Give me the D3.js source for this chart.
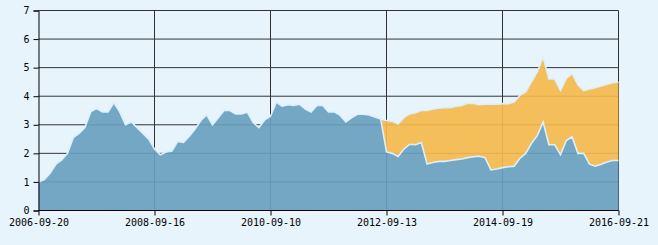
<!DOCTYPE html>
<html>
<head>
<meta charset="utf-8">
<script src="https://cdn.jsdelivr.net/npm/d3@7"></script>
<style>
  body { margin: 0; background: #e8f4fc; }
  svg { display: block; }
  .tick-label { font-family: "DejaVu Sans Mono", "Liberation Mono", monospace; font-size: 10px; fill: #000; }
</style>
</head>
<body>
<div id="chart-area"><svg></svg></div>
<script>
// sampled values, evenly spaced from 2006-09-20 to 2016-09-21
const blueValues = [
  1.0, 1.08, 1.3, 1.62, 1.77, 2.0, 2.55, 2.7, 2.9, 3.45,
  3.58, 3.45, 3.45, 3.78, 3.45, 3.0, 3.1, 2.9, 2.7, 2.5,
  2.15, 1.95, 2.05, 2.08, 2.42, 2.38, 2.6, 2.85, 3.15, 3.35,
  3.0, 3.25, 3.5, 3.5, 3.38, 3.38, 3.44, 3.08, 2.9, 3.17,
  3.3, 3.79, 3.65, 3.7, 3.68, 3.72, 3.55, 3.45, 3.68, 3.68,
  3.45, 3.45, 3.33, 3.1, 3.25, 3.37, 3.37, 3.34, 3.27, 3.2,
  2.05, 2.0, 1.89, 2.15, 2.32, 2.3, 2.38, 1.63, 1.68, 1.72,
  1.72, 1.75, 1.78, 1.8, 1.85, 1.88, 1.9, 1.85, 1.42, 1.45,
  1.5, 1.53, 1.55, 1.83, 2.0, 2.35, 2.62, 3.1, 2.3, 2.3,
  1.95, 2.45, 2.58, 2.0, 2.0, 1.62, 1.55, 1.62, 1.7, 1.75,
  1.75
];

// second series starts at index 59
const orangeStart = 59;
const orangeValues = [
  3.2, 3.15, 3.12, 3.03, 3.25, 3.38, 3.42, 3.5, 3.5, 3.55,
  3.58, 3.6, 3.6, 3.65, 3.68, 3.75, 3.75, 3.7, 3.72, 3.72,
  3.72, 3.74, 3.74, 3.8, 4.03, 4.15, 4.5, 4.85, 5.37, 4.6,
  4.6, 4.2, 4.62, 4.79, 4.4, 4.2, 4.25, 4.3, 4.36, 4.42,
  4.47, 4.5
];

const dateLabels = ["2006-09-20", "2008-09-16", "2010-09-10", "2012-09-13", "2014-09-19", "2016-09-21"];
const dateIndex = [0, 20, 40, 60, 80, 100];
const yTicks = [0, 1, 2, 3, 4, 5, 6, 7];

const chartSize = { width: 658, height: 245 };
const margin = { left: 38.5, right: 39.5, top: 10.5, bottom: 34.5 };
const width = chartSize.width - margin.left - margin.right;
const height = chartSize.height - margin.top - margin.bottom;

const svg = d3.select("#chart-area svg")
  .attr("width", chartSize.width)
  .attr("height", chartSize.height);

const g = svg.append("g").attr("transform", `translate(${margin.left}, ${margin.top})`);

const x = d3.scaleLinear().domain([0, blueValues.length - 1]).range([0, width]);
const y = d3.scaleLinear().domain([0, 7]).range([height, 0]);

// grid
g.append("g").selectAll("line").data(yTicks.slice(1)).join("line")
  .attr("x1", 0).attr("x2", width)
  .attr("y1", d => y(d)).attr("y2", d => y(d))
  .attr("stroke", "#333").attr("stroke-width", 1);

g.append("g").selectAll("line").data(dateIndex.slice(1)).join("line")
  .attr("x1", d => x(d)).attr("x2", d => x(d))
  .attr("y1", 0).attr("y2", height)
  .attr("stroke", "#333").attr("stroke-width", 1);

// areas
const orange = orangeValues.map((v, k) => ({ i: orangeStart + k, top: v, bottom: blueValues[orangeStart + k] }));

g.append("path")
  .attr("fill", "#f4b84c").attr("fill-opacity", 0.92)
  .attr("d", d3.area().x(d => x(d.i)).y0(d => y(d.bottom)).y1(d => y(d.top))(orange));

g.append("path")
  .attr("fill", "#69a0bf").attr("fill-opacity", 0.92)
  .attr("d", d3.area().x((d, i) => x(i)).y0(height).y1(d => y(d))(blueValues));

g.append("path")
  .attr("fill", "none").attr("stroke", "#dcf0fb").attr("stroke-width", 1.6)
  .attr("d", d3.line().x(d => x(d.i)).y(d => y(d.top))(orange));

g.append("path")
  .attr("fill", "none").attr("stroke", "#dcf0fb").attr("stroke-width", 1.6)
  .attr("d", d3.line().x((d, i) => x(i)).y(d => y(d))(blueValues));

// axes
const yAxis = d3.axisLeft(y).tickValues(yTicks).tickFormat(d3.format("d")).tickSize(5).tickPadding(4);
g.append("g").call(yAxis)
  .call(a => a.select(".domain").attr("stroke", "#000"))
  .call(a => a.selectAll(".tick line").attr("stroke", "#000"))
  .call(a => a.selectAll("text").attr("class", "tick-label").attr("font-family", null).attr("font-size", null));

const xAxis = d3.axisBottom(x).tickValues(dateIndex).tickFormat((d, k) => dateLabels[k]).tickSize(5).tickPadding(3);
g.append("g").attr("transform", `translate(0, ${height})`).call(xAxis)
  .call(a => a.select(".domain").attr("stroke", "#000").attr("d", `M0,0H${width}`))
  .call(a => a.selectAll(".tick line").attr("stroke", "#000"))
  .call(a => a.selectAll("text").attr("class", "tick-label").attr("font-family", null).attr("font-size", null));
</script>
</body>
</html>
